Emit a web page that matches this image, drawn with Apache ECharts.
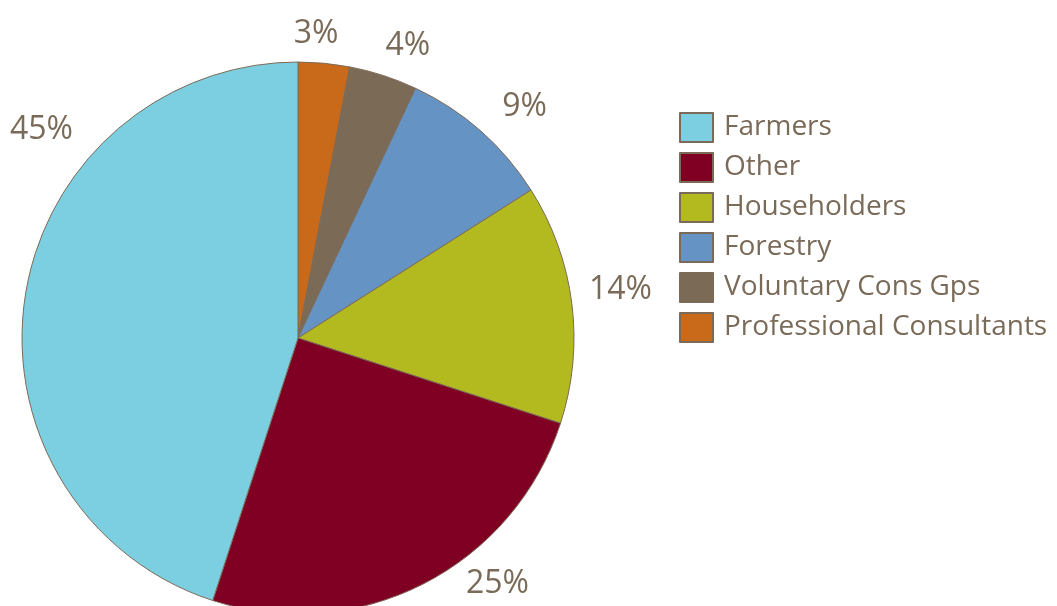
<!DOCTYPE html>
<html>
<head>
<meta charset="utf-8">
<script src="https://cdn.jsdelivr.net/npm/echarts@6/dist/echarts.min.js"></script>
<style>html,body{margin:0;padding:0;background:#fff}#c{width:1057px;height:606px}</style>
</head>
<body>
<div id="c"></div>
<script>
// Slice order clockwise from 12 o'clock
const categories = ['Professional Consultants', 'Voluntary Cons Gps', 'Forestry', 'Householders', 'Other', 'Farmers'];
const values = [3, 4, 9, 14, 25, 45];
const colors = ['#c96a1a', '#7b6a55', '#6593c3', '#b2ba1f', '#800023', '#7ccfe0'];
const legendOrder = ['Farmers', 'Other', 'Householders', 'Forestry', 'Voluntary Cons Gps', 'Professional Consultants'];

const CX = 298, CY = 338, R = 276;
const textColor = '#7a6a58';
// label placement tweaks (angle offset deg, radius px) per slice — styling only
const labelTweak = [[-2, 305], [2.6, 312], [3, 324], [-1.3, 326], [-12, 317], [30, 330]];

const total = values.reduce((a, b) => a + b, 0);
const cum = [];
values.reduce((acc, v, i) => { cum[i] = acc + v / 2; return acc + v; }, 0);

const chart = echarts.init(document.getElementById('c'));
chart.setOption({
  animation: false,
  legend: {
    data: legendOrder,
    orient: 'vertical',
    left: 679,
    top: 109,
    padding: 0,
    itemWidth: 33,
    itemHeight: 29,
    itemGap: 3,
    icon: 'rect',
    textStyle: { fontFamily: 'Open Sans', fontSize: 28, lineHeight: 29, color: textColor, padding: [8, 0, 0, 6] }
  },
  series: [{
    type: 'pie',
    center: [CX, CY],
    radius: R,
    startAngle: 90,
    clockwise: true,
    avoidLabelOverlap: false,
    data: categories.map((n, i) => ({ name: n, value: values[i], itemStyle: { color: colors[i] } })),
    itemStyle: { borderColor: '#7b6a58', borderWidth: 1 },
    label: {
      show: true,
      position: 'outside',
      formatter: p => p.value + '%',
      fontFamily: 'Open Sans',
      fontSize: 32,
      color: textColor
    },
    labelLine: { show: false },
    labelLayout: function (p) {
      const i = p.dataIndex;
      const ang = (cum[i] / total * 360 + labelTweak[i][0]) * Math.PI / 180;
      const r = labelTweak[i][1];
      return {
        x: CX + r * Math.sin(ang),
        y: CY - r * Math.cos(ang),
        align: 'center',
        verticalAlign: 'middle'
      };
    }
  }]
});
</script>
</body>
</html>
